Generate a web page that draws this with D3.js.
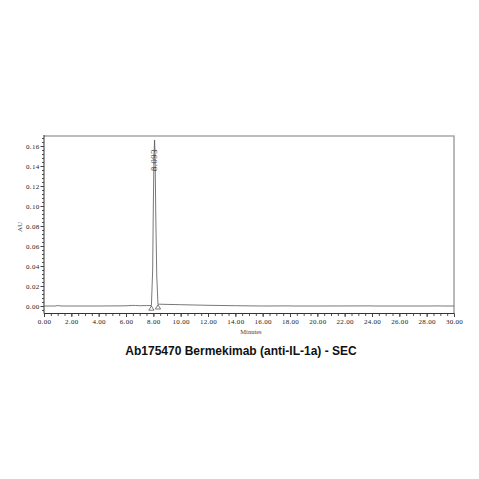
<!DOCTYPE html>
<html>
<head>
<meta charset="utf-8">
<script src="https://cdn.jsdelivr.net/npm/d3@7"></script>
<style>
  body { margin: 0; background: #fff; }
  svg { display: block; }
  .tick text { font-family: "Liberation Serif", "DejaVu Serif", serif; fill: #222; }
</style>
</head>
<body>
<svg></svg>
<script>
//data
const times = [0, 0.8, 1.0, 1.3, 2, 4, 6, 6.5, 6.7, 7.0, 7.5, 7.86, 7.95, 8.0, 8.05, 8.093, 8.13, 8.18, 8.25, 8.34, 8.45, 9, 10, 12, 14, 16, 18, 18.2, 20, 24, 24.2, 28, 29, 29.2, 30];
const absorb = [0, 0, 0.0004, 0, 0, 0, 0.0002, 0.0006, 0.0005, 0.0003, 0.0004, 0.0005, 0.035, 0.10, 0.152, 0.166, 0.148, 0.09, 0.03, 0.0017, 0.0018, 0.0016, 0.0013, 0.0007, 0.0003, 0, 0.0001, 0, 0, 0.0001, 0, 0, 0.0001, 0, 0];
const peakTime = 8.093;
const peakLabel = "8.093";
const markerTimes = [7.86, 8.34];
const xTicks = d3.range(0, 30.01, 2);
const yTicks = d3.range(0, 0.161, 0.02);
const title = "Ab175470 Bermekimab (anti-IL-1a) - SEC";

//constants
const W = 479, H = 479;
const box = {left: 44, right: 454, top: 136, bottom: 313.5};

//main
function main() {
    let svg = d3.select("svg")
        .attr("width", W)
        .attr("height", H)
        .style("background-color", "#fff");

    //scales
    let xScale = d3.scaleLinear()
        .domain([0, 30])
        .range([box.left, box.right]);

    let yScale = d3.scaleLinear()
        .domain([-0.0075, 0.17])
        .range([box.bottom, box.top]);

    //frame (top + right in grey)
    svg.append("path")
        .attr("d", `M${box.left},${box.top}H${box.right}V${box.bottom}`)
        .attr("fill", "none")
        .attr("stroke", "#a8a8a8")
        .attr("stroke-width", 1.6);

    //minor ticks
    svg.append("g")
        .attr("transform", "translate(0," + box.bottom + ")")
        .call(d3.axisBottom(xScale)
            .tickValues(d3.range(0, 30.01, 0.5))
            .tickSize(2.5)
            .tickFormat(""))
        .call(g => g.select(".domain").remove())
        .selectAll("line").attr("stroke", "#555");

    svg.append("g")
        .attr("transform", "translate(" + box.left + ",0)")
        .call(d3.axisLeft(yScale)
            .tickValues(d3.range(-0.004, 0.1705, 0.004))
            .tickSize(2)
            .tickFormat(""))
        .call(g => g.select(".domain").remove())
        .selectAll("line").attr("stroke", "#555");

    //axes
    let xAxis = svg.append("g")
        .attr("transform", "translate(0," + box.bottom + ")")
        .call(d3.axisBottom(xScale)
            .tickValues(xTicks)
            .tickSize(3.5)
            .tickSizeOuter(0)
            .tickFormat(d3.format(".2f")));
    xAxis.select(".domain").attr("stroke", "#333").attr("d", `M${box.left},0H${box.right}`);
    xAxis.selectAll(".tick line").attr("stroke", "#444");
    xAxis.selectAll(".tick text")
        .attr("y", 6)
        .style("font-size", "7px")
        .style("letter-spacing", "0.3px");

    let yAxis = svg.append("g")
        .attr("transform", "translate(" + box.left + ",0)")
        .call(d3.axisLeft(yScale)
            .tickValues(yTicks)
            .tickSize(3.5)
            .tickSizeOuter(0)
            .tickFormat(d3.format(".2f")));
    yAxis.select(".domain").attr("stroke", "#333").attr("d", `M0,${box.top - 1}V${box.bottom}`);
    yAxis.selectAll(".tick line").attr("stroke", "#444");
    yAxis.selectAll(".tick text")
        .attr("x", -4.5)
        .style("font-size", "7px")
        .style("letter-spacing", "0.3px");

    //axis labels
    svg.append("text")
        .attr("transform", "translate(22," + 227 + ") rotate(-90)")
        .style("text-anchor", "middle")
        .style("font-family", "Liberation Serif, serif")
        .style("font-size", "7px")
        .style("fill", "#444")
        .text("AU");

    svg.append("text")
        .attr("x", (box.left + box.right) / 2 + 2)
        .attr("y", 334)
        .style("text-anchor", "middle")
        .style("font-family", "Liberation Serif, serif")
        .style("font-size", "6.5px")
        .style("fill", "#444")
        .text("Minutes");

    //trace
    let line = d3.line()
        .x((d, i) => xScale(times[i]))
        .y(d => yScale(d));

    svg.append("path")
        .datum(absorb)
        .attr("d", line)
        .attr("fill", "none")
        .attr("stroke", "#555")
        .attr("stroke-width", 0.8);

    //peak start / end markers
    let interp = t => {
        let i = d3.bisectLeft(times, t);
        if (i <= 0) return absorb[0];
        let t0 = times[i - 1], t1 = times[i];
        return absorb[i - 1] + (absorb[i] - absorb[i - 1]) * (t - t0) / (t1 - t0);
    };
    svg.selectAll("marker-tri")
        .data(markerTimes)
        .enter()
        .append("path")
        .attr("transform", d => "translate(" + xScale(d) + "," + (yScale(Math.min(interp(d), 0.0018)) + 0.5) + ")")
        .attr("d", "M0,0L2.6,4.2L-2.6,4.2Z")
        .attr("fill", "#fff")
        .attr("stroke", "#444")
        .attr("stroke-width", 0.7);

    //peak label
    svg.append("text")
        .attr("transform", "translate(" + (xScale(peakTime) + 2.5) + ",160) rotate(-90)")
        .style("text-anchor", "middle")
        .style("font-family", "Liberation Serif, serif")
        .style("font-size", "8.5px")
        .style("letter-spacing", "0.6px")
        .style("fill", "#333")
        .text(peakLabel);

    //title
    svg.append("text")
        .attr("x", 241)
        .attr("y", 355)
        .style("text-anchor", "middle")
        .style("font-family", "Liberation Sans, Arial, sans-serif")
        .style("font-weight", "bold")
        .style("font-size", "12px")
        .style("fill", "#111")
        .text(title);
}

main();
</script>
</body>
</html>
